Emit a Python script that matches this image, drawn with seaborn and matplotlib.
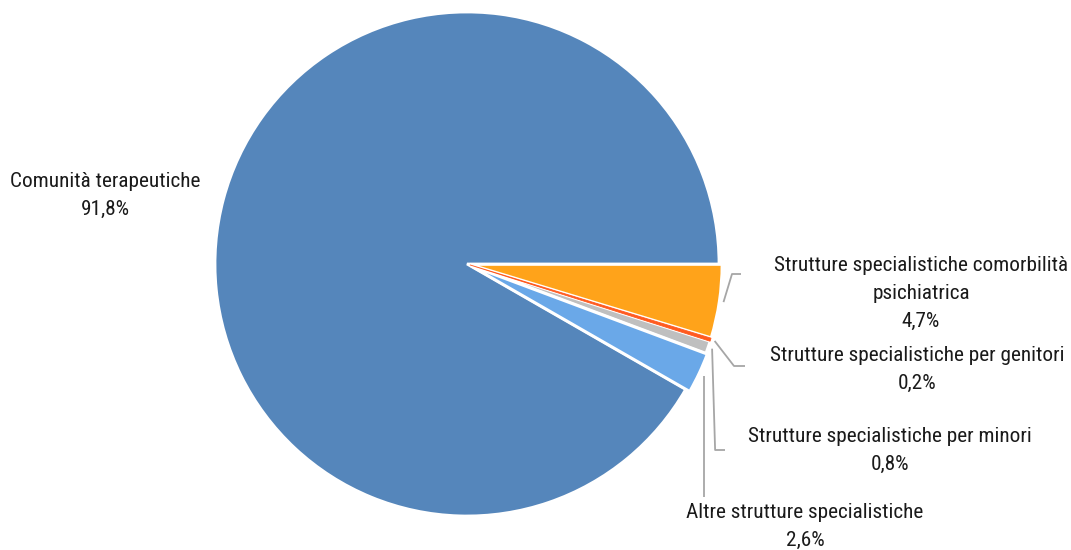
import numpy as np
import matplotlib
matplotlib.use("Agg")
import matplotlib.pyplot as plt
import seaborn as sns

# dati (percentuali)
categorie = ["Comunità terapeutiche",
             "Strutture specialistiche comorbilità\npsichiatrica",
             "Strutture specialistiche per genitori",
             "Strutture specialistiche per minori",
             "Altre strutture specialistiche"]
valori = [91.8, 4.7, 0.2, 0.8, 2.6]
etichette_pct = ["91,8%", "4,7%", "0,2%", "0,8%", "2,6%"]
colori = ["#5586BB", "#FFA31A", "#FF5A1F", "#BFBFBF", "#6AA8E8"]

sns.set_theme(style="white")
plt.rcParams['font.family'] = ['Roboto Condensed', 'DejaVu Sans']

W, H = 1071, 550
fig = plt.figure(figsize=(W / 100, H / 100), dpi=100)
ax = fig.add_axes([0, 0, 1, 1])

# centro e raggio della torta in pixel
cx, cy, R = 467, 264, 252


def px(x, y):
    # pixel -> coordinate dati (raggio = 1)
    return (x - cx) / R, (cy - y) / R


tot = sum(valori)
start = 360 * valori[0] / tot
explode = [0, 0.012, 0.012, 0.012, 0.018]
wedges, _ = ax.pie(valori, colors=colori, startangle=start, counterclock=False,
                   explode=explode, radius=1.0,
                   wedgeprops=dict(edgecolor="white", linewidth=2.0))
# la fetta dello 0,2% è sottilissima: niente bordo bianco, sopra le altre
wedges[2].set_edgecolor(colori[2])
wedges[2].set_linewidth(0.6)
wedges[2].set_zorder(5)

ax.set_xlim(px(0, 0)[0], px(W, 0)[0])
ax.set_ylim(px(0, H)[1], px(0, 0)[1])
ax.set_aspect("equal")
ax.axis("off")

fs = 15.3
ls = 1.6
# etichetta principale
x, y = px(105, 195)
ax.text(x, y, categorie[0] + "\n" + etichette_pct[0], ha="center", va="center",
        fontsize=fs, color="#1a1a1a", linespacing=ls)

# posizioni etichette (pixel, centro del testo) e gomiti delle linee guida
pos_lab = {1: (921, 293), 2: (917, 369), 3: (890, 450), 4: (805, 526)}
gomiti = {1: [(732, 274), (741, 274)],
          2: [(734, 366), (745, 366)],
          3: [(713, 450), (725, 450)],
          4: [(701, 497)]}

for i in range(1, 5):
    w = wedges[i]
    ang = np.deg2rad((w.theta1 + w.theta2) / 2)
    r0 = 1.0 + explode[i] + 0.005
    x0, y0 = w.center[0] + r0 * np.cos(ang), w.center[1] + r0 * np.sin(ang)
    pts = [(x0, y0)] + [px(a, b) for a, b in gomiti[i]]
    if i == 4:
        pts = [(x0, y0), (x0, px(0, 497)[1])]
    if i == 3:
        pts = [(x0, y0), (x0 + 0.012, px(0, 450)[1]), px(725, 450)]
    ax.plot([p[0] for p in pts], [p[1] for p in pts], color="#A6A6A6", lw=1.3,
            solid_capstyle="butt")
    lx, ly = px(*pos_lab[i])
    ax.text(lx, ly, categorie[i] + "\n" + etichette_pct[i], ha="center", va="center",
            fontsize=fs, color="#1a1a1a", linespacing=ls)

fig.savefig("out.png", dpi=100)
